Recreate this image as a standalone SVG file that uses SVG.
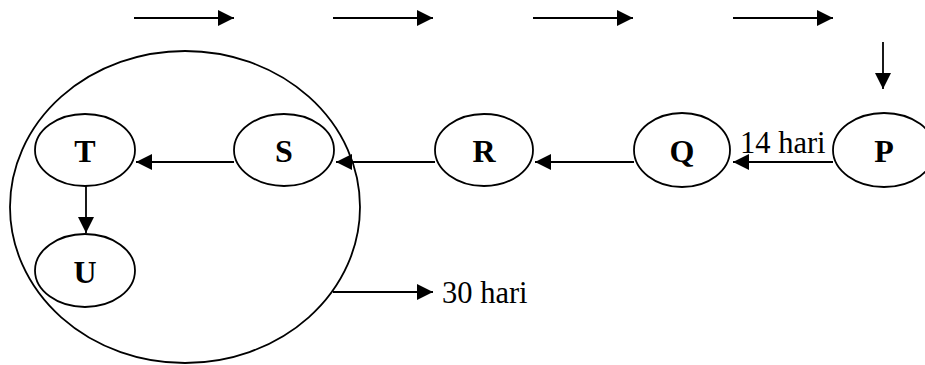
<svg xmlns="http://www.w3.org/2000/svg" width="925" height="365" viewBox="0 0 925 365">
<style>
.n{fill:none;stroke:#000;stroke-width:1.8}
.c{stroke:#000;stroke-width:1.8;fill:none}
.lb{font-family:"Liberation Serif","Times New Roman",serif;font-weight:bold;font-size:32px;text-anchor:middle;fill:#000}
.tx{font-family:"Liberation Serif","Times New Roman",serif;font-size:30.5px;fill:#000}
</style>
<defs>
<marker id="ah" viewBox="0 0 16 16" markerWidth="16" markerHeight="16" refX="16" refY="8" orient="auto" markerUnits="userSpaceOnUse">
<path d="M0,0 L16,8 L0,16 z" fill="#000"/>
</marker>
</defs>
<g id="group30">
<ellipse class="n" cx="185" cy="207" rx="175" ry="156"/>
</g>
<g id="P"><ellipse class="n" cx="884" cy="150" rx="51" ry="37"/><text class="lb" x="884" y="162">P</text></g>
<g id="Q"><ellipse class="n" cx="682" cy="150" rx="48" ry="37"/><text class="lb" x="682" y="162">Q</text></g>
<g id="R"><ellipse class="n" cx="484" cy="150" rx="49" ry="36"/><text class="lb" x="484" y="162">R</text></g>
<g id="S"><ellipse class="n" cx="284" cy="150" rx="50" ry="36"/><text class="lb" x="284" y="162">S</text></g>
<g id="T"><ellipse class="n" cx="85" cy="150" rx="50" ry="36"/><text class="lb" x="85" y="162">T</text></g>
<g id="U"><ellipse class="n" cx="85" cy="270.5" rx="50" ry="36.5"/><text class="lb" x="85" y="283">U</text></g>
<g id="connectors">
<line class="c" x1="134" y1="18" x2="234" y2="18" marker-end="url(#ah)"/>
<line class="c" x1="333" y1="18" x2="433" y2="18" marker-end="url(#ah)"/>
<line class="c" x1="533" y1="18" x2="633" y2="18" marker-end="url(#ah)"/>
<line class="c" x1="733" y1="18" x2="833" y2="18" marker-end="url(#ah)"/>
<line class="c" x1="883" y1="42" x2="883" y2="89" marker-end="url(#ah)"/>
<line class="c" x1="833" y1="162" x2="733" y2="162" marker-end="url(#ah)"/>
<line class="c" x1="634" y1="162" x2="535" y2="162" marker-end="url(#ah)"/>
<line class="c" x1="435" y1="162" x2="336" y2="162" marker-end="url(#ah)"/>
<line class="c" x1="234" y1="162" x2="136" y2="162" marker-end="url(#ah)"/>
<line class="c" x1="86" y1="186" x2="86" y2="233" marker-end="url(#ah)"/>
<line class="c" x1="333" y1="292" x2="433" y2="292" marker-end="url(#ah)"/>
</g>
<text class="tx" x="740" y="153">14 hari</text>
<text class="tx" x="442" y="303">30 hari</text>
</svg>
